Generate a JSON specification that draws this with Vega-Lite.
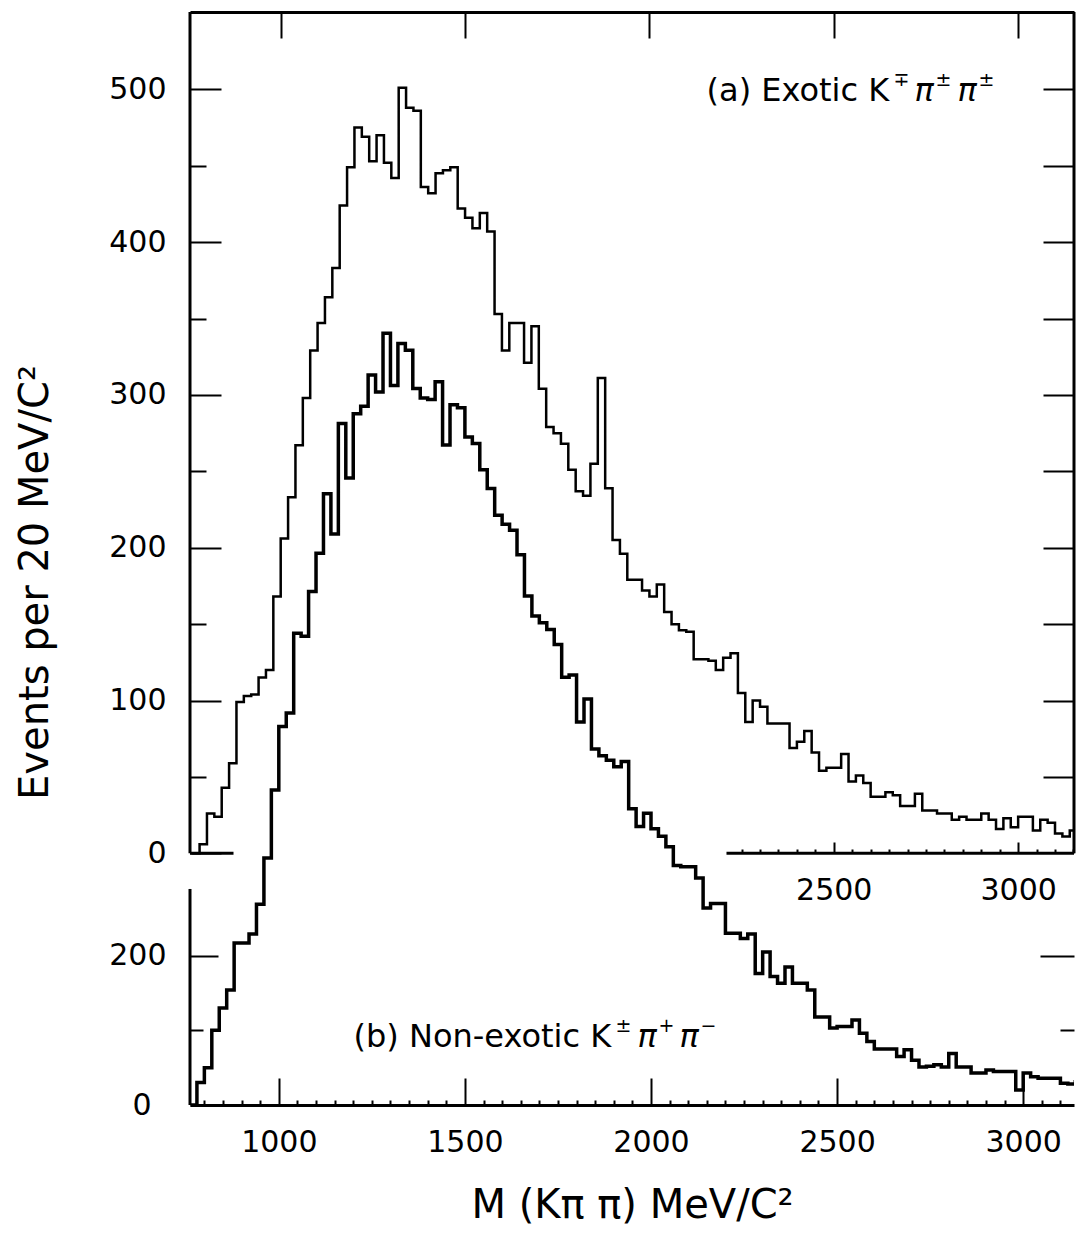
{
  "$schema": "https://vega.github.io/schema/vega-lite/v6.json",
  "width": 884,
  "height": 1093,
  "autosize": {"type": "none"},
  "padding": {"left": 190, "top": 12, "right": 3, "bottom": 143},
  "background": "white",
  "config": {
    "view": {"stroke": null},
    "axis": {"domain": false, "grid": false, "labelFont": "DejaVu Sans", "labelFontSize": 30, "labelColor": "black", "tickColor": "black", "tickWidth": 2, "titleFont": "DejaVu Sans", "titleFontWeight": "normal", "titleColor": "black", "labelFlush": false, "labelOverlap": false, "domainColor": "black", "domainWidth": 3},
    "text": {"font": "DejaVu Sans", "color": "black"}
  },
  "data": {"values": [
    {"m": 760, "a": 0, "b": 0}, {"m": 780, "a": 6, "b": 30}, {"m": 800, "a": 26, "b": 50}, {"m": 820, "a": 24, "b": 100},
    {"m": 840, "a": 43, "b": 130}, {"m": 860, "a": 59, "b": 154}, {"m": 880, "a": 99, "b": 217}, {"m": 900, "a": 103, "b": 217},
    {"m": 920, "a": 104, "b": 229}, {"m": 940, "a": 115, "b": 269}, {"m": 960, "a": 120, "b": 331}, {"m": 980, "a": 168, "b": 422},
    {"m": 1000, "a": 206, "b": 507}, {"m": 1020, "a": 233, "b": 525}, {"m": 1040, "a": 267, "b": 632}, {"m": 1060, "a": 298, "b": 628},
    {"m": 1080, "a": 329, "b": 688}, {"m": 1100, "a": 347, "b": 739}, {"m": 1120, "a": 364, "b": 819}, {"m": 1140, "a": 383, "b": 765},
    {"m": 1160, "a": 424, "b": 913}, {"m": 1180, "a": 449, "b": 840}, {"m": 1200, "a": 475, "b": 926}, {"m": 1220, "a": 469, "b": 936},
    {"m": 1240, "a": 453, "b": 978}, {"m": 1260, "a": 470, "b": 955}, {"m": 1280, "a": 452, "b": 1034}, {"m": 1300, "a": 442, "b": 964},
    {"m": 1320, "a": 501, "b": 1020}, {"m": 1340, "a": 488, "b": 1011}, {"m": 1360, "a": 486, "b": 960}, {"m": 1380, "a": 436, "b": 947},
    {"m": 1400, "a": 432, "b": 945}, {"m": 1420, "a": 445, "b": 969}, {"m": 1440, "a": 447, "b": 884}, {"m": 1460, "a": 449, "b": 938},
    {"m": 1480, "a": 422, "b": 934}, {"m": 1500, "a": 416, "b": 895}, {"m": 1520, "a": 409, "b": 886}, {"m": 1540, "a": 419, "b": 851},
    {"m": 1560, "a": 407, "b": 826}, {"m": 1580, "a": 353, "b": 790}, {"m": 1600, "a": 329, "b": 778}, {"m": 1620, "a": 347, "b": 770},
    {"m": 1640, "a": 347, "b": 737}, {"m": 1660, "a": 321, "b": 682}, {"m": 1680, "a": 345, "b": 655}, {"m": 1700, "a": 304, "b": 646},
    {"m": 1720, "a": 279, "b": 637}, {"m": 1740, "a": 275, "b": 617}, {"m": 1760, "a": 268, "b": 573}, {"m": 1780, "a": 251, "b": 576},
    {"m": 1800, "a": 237, "b": 513}, {"m": 1820, "a": 234, "b": 544}, {"m": 1840, "a": 255, "b": 477}, {"m": 1860, "a": 311, "b": 468},
    {"m": 1880, "a": 239, "b": 462}, {"m": 1900, "a": 205, "b": 453}, {"m": 1920, "a": 196, "b": 460}, {"m": 1940, "a": 179, "b": 397},
    {"m": 1960, "a": 179, "b": 373}, {"m": 1980, "a": 172, "b": 391}, {"m": 2000, "a": 168, "b": 370}, {"m": 2020, "a": 176, "b": 360},
    {"m": 2040, "a": 158, "b": 346}, {"m": 2060, "a": 150, "b": 321}, {"m": 2080, "a": 146, "b": 319}, {"m": 2100, "a": 145, "b": 319},
    {"m": 2120, "a": 127, "b": 304}, {"m": 2140, "a": 127, "b": 264}, {"m": 2160, "a": 126, "b": 270}, {"m": 2180, "a": 120, "b": 270},
    {"m": 2200, "a": 128, "b": 230}, {"m": 2220, "a": 131, "b": 230}, {"m": 2240, "a": 105, "b": 223}, {"m": 2260, "a": 86, "b": 229},
    {"m": 2280, "a": 100, "b": 176}, {"m": 2300, "a": 96, "b": 205}, {"m": 2320, "a": 85, "b": 172}, {"m": 2340, "a": 85, "b": 163},
    {"m": 2360, "a": 85, "b": 185}, {"m": 2380, "a": 69, "b": 163}, {"m": 2400, "a": 73, "b": 163}, {"m": 2420, "a": 80, "b": 154},
    {"m": 2440, "a": 66, "b": 118}, {"m": 2460, "a": 54, "b": 118}, {"m": 2480, "a": 56, "b": 103}, {"m": 2500, "a": 56, "b": 105},
    {"m": 2520, "a": 65, "b": 105}, {"m": 2540, "a": 47, "b": 114}, {"m": 2560, "a": 51, "b": 96}, {"m": 2580, "a": 46, "b": 85},
    {"m": 2600, "a": 37, "b": 75}, {"m": 2620, "a": 37, "b": 75}, {"m": 2640, "a": 40, "b": 75}, {"m": 2660, "a": 38, "b": 65},
    {"m": 2680, "a": 31, "b": 74}, {"m": 2700, "a": 31, "b": 60}, {"m": 2720, "a": 39, "b": 51}, {"m": 2740, "a": 28, "b": 52},
    {"m": 2760, "a": 28, "b": 54}, {"m": 2780, "a": 26, "b": 51}, {"m": 2800, "a": 26, "b": 69}, {"m": 2820, "a": 22, "b": 51},
    {"m": 2840, "a": 24, "b": 51}, {"m": 2860, "a": 22, "b": 43}, {"m": 2880, "a": 22, "b": 43}, {"m": 2900, "a": 26, "b": 47},
    {"m": 2920, "a": 22, "b": 45}, {"m": 2940, "a": 16, "b": 45}, {"m": 2960, "a": 23, "b": 45}, {"m": 2980, "a": 17, "b": 20},
    {"m": 3000, "a": 24, "b": 43}, {"m": 3020, "a": 24, "b": 38}, {"m": 3040, "a": 15, "b": 36}, {"m": 3060, "a": 22, "b": 36},
    {"m": 3080, "a": 20, "b": 36}, {"m": 3100, "a": 13, "b": 29}, {"m": 3120, "a": 11, "b": 28}, {"m": 3140, "a": 15, "b": 31},
    {"m": 3160, "a": 15, "b": 31}
  ]},
  "resolve": {"scale": {"x": "independent", "y": "independent"}, "axis": {"x": "independent", "y": "independent"}},
  "layer": [
    {
      "layer": [
        {
          "mark": {"type": "line", "interpolate": "step-after", "color": "black", "strokeWidth": 2.5, "clip": true},
          "encoding": {
            "x": {"field": "m", "type": "quantitative", "scale": {"domain": [754, 3151.5], "nice": false, "zero": false},
                  "axis": {"orient": "top", "domain": true, "values": [1000, 1500, 2000, 2500, 3000], "tickSize": -26, "labels": false, "title": null}},
            "y": {"field": "a", "type": "quantitative", "scale": {"domain": [-164.7, 550.6], "nice": false, "zero": false},
                  "axis": {"orient": "left", "values": [0, 50, 100, 150, 200, 250, 300, 350, 400, 450, 500], "labelOverlap": false,
                           "tickSize": {"condition": {"test": "datum.value % 100 === 0", "value": -31}, "value": -16},
                           "labelExpr": "datum.value % 100 === 0 ? datum.label : ''", "labelPadding": 55,
                           "title": "Events per 20 MeV/C²", "titleFontSize": 40, "titleX": -155, "titleY": 570, "titleAngle": 270, "titleBaseline": "middle", "titleAlign": "center"}}
          }
        },
        {"data": {"values": [{}]}, "mark": {"type": "rule", "color": "black", "strokeWidth": 3},
         "encoding": {"x": {"datum": 754, "type": "quantitative"}, "y": {"datum": 0, "type": "quantitative"}, "y2": {"datum": 550.6}}},
        {"data": {"values": [{}]}, "mark": {"type": "rule", "color": "black", "strokeWidth": 3},
         "encoding": {"x": {"datum": 3151.5, "type": "quantitative"}, "y": {"datum": 0, "type": "quantitative"}, "y2": {"datum": 550.6}}},
        {"data": {"values": [{}]}, "mark": {"type": "rule", "color": "black", "strokeWidth": 3},
         "encoding": {"x": {"datum": 2209, "type": "quantitative"}, "x2": {"datum": 3151.5}, "y": {"datum": 0, "type": "quantitative"}}},
        {"data": {"values": [{}]}, "mark": {"type": "rule", "color": "black", "strokeWidth": 3},
         "encoding": {"x": {"datum": 754, "type": "quantitative"}, "x2": {"datum": 872}, "y": {"datum": 0, "type": "quantitative"}}},
        {"data": {"values": [{}]}, "mark": {"type": "text", "align": "left", "baseline": "middle", "fontSize": 32, "text": "(a) Exotic K"},
         "encoding": {"x": {"datum": 2155, "type": "quantitative"}, "y": {"datum": 499, "type": "quantitative"}}},
        {"data": {"values": [{}]}, "mark": {"type": "text", "align": "left", "baseline": "middle", "fontSize": 19, "text": "∓", "dx": 187, "dy": -11},
         "encoding": {"x": {"datum": 2155, "type": "quantitative"}, "y": {"datum": 499, "type": "quantitative"}}},
        {"data": {"values": [{}]}, "mark": {"type": "text", "align": "left", "baseline": "middle", "fontSize": 32, "fontStyle": "italic", "text": "π", "dx": 208},
         "encoding": {"x": {"datum": 2155, "type": "quantitative"}, "y": {"datum": 499, "type": "quantitative"}}},
        {"data": {"values": [{}]}, "mark": {"type": "text", "align": "left", "baseline": "middle", "fontSize": 19, "text": "±", "dx": 229, "dy": -11},
         "encoding": {"x": {"datum": 2155, "type": "quantitative"}, "y": {"datum": 499, "type": "quantitative"}}},
        {"data": {"values": [{}]}, "mark": {"type": "text", "align": "left", "baseline": "middle", "fontSize": 32, "fontStyle": "italic", "text": "π", "dx": 251},
         "encoding": {"x": {"datum": 2155, "type": "quantitative"}, "y": {"datum": 499, "type": "quantitative"}}},
        {"data": {"values": [{}]}, "mark": {"type": "text", "align": "left", "baseline": "middle", "fontSize": 19, "text": "±", "dx": 272, "dy": -11},
         "encoding": {"x": {"datum": 2155, "type": "quantitative"}, "y": {"datum": 499, "type": "quantitative"}}}
      ]
    },
    {
      "mark": {"type": "line", "interpolate": "step-after", "opacity": 0},
      "encoding": {
        "x": {"field": "m", "type": "quantitative", "scale": {"domain": [754, 3151.5], "nice": false, "zero": false},
              "axis": {"orient": "bottom", "offset": -252, "format": "d", "labelOverlap": false,
                       "values": [2250, 2300, 2350, 2400, 2450, 2500, 2550, 2600, 2650, 2700, 2750, 2800, 2850, 2900, 2950, 3000, 3050, 3100, 3150],
                       "tickSize": {"condition": {"test": "datum.value % 500 === 0", "value": -11}, "value": -4},
                       "labelExpr": "datum.value % 500 === 0 ? datum.label : ''", "labelPadding": 33, "title": null}},
        "y": {"field": "a", "type": "quantitative", "scale": {"domain": [-164.7, 550.6], "nice": false, "zero": false},
              "axis": {"orient": "right", "values": [50, 100, 150, 200, 250, 300, 350, 400, 450, 500], "tickSize": -31, "labels": false, "title": null}}
      }
    },
    {
      "layer": [
        {
          "mark": {"type": "line", "interpolate": "step-after", "color": "black", "strokeWidth": 3.5, "clip": true},
          "encoding": {
            "x": {"field": "m", "type": "quantitative", "scale": {"domain": [761.4, 3136.5], "nice": false, "zero": false},
                  "axis": {"orient": "bottom", "domain": true, "format": "d", "labelOverlap": false,
                           "values": [1000, 1500, 2000, 2500, 3000],
                           "tickSize": -27, "labelPadding": 49,
                           "title": "M (Kπ π) MeV/C²", "titleFontSize": 40, "titleY": 100, "titleBaseline": "middle"}},
            "y": {"field": "b", "type": "quantitative", "scale": {"domain": [0, 1464.2], "nice": false, "zero": false},
                  "axis": {"orient": "left", "values": [0, 100, 200], "labelOverlap": false,
                           "tickSize": {"condition": {"test": "datum.value === 200", "value": -28}, "value": -13},
                           "labelExpr": "datum.value === 100 ? '' : datum.label", "labelPadding": 52, "title": null}}
          }
        },
        {"data": {"values": [{}]}, "mark": {"type": "rule", "color": "black", "strokeWidth": 3},
         "encoding": {"x": {"datum": 761.4, "type": "quantitative"}, "y": {"datum": 0, "type": "quantitative"}, "y2": {"datum": 289.4}}},
        {"data": {"values": [{}]}, "mark": {"type": "text", "align": "left", "baseline": "middle", "fontSize": 32, "text": "(b) Non-exotic K"},
         "encoding": {"x": {"datum": 1200.7, "type": "quantitative"}, "y": {"datum": 91.5, "type": "quantitative"}}},
        {"data": {"values": [{}]}, "mark": {"type": "text", "align": "left", "baseline": "middle", "fontSize": 19, "text": "±", "dx": 262, "dy": -11},
         "encoding": {"x": {"datum": 1200.7, "type": "quantitative"}, "y": {"datum": 91.5, "type": "quantitative"}}},
        {"data": {"values": [{}]}, "mark": {"type": "text", "align": "left", "baseline": "middle", "fontSize": 32, "fontStyle": "italic", "text": "π", "dx": 284},
         "encoding": {"x": {"datum": 1200.7, "type": "quantitative"}, "y": {"datum": 91.5, "type": "quantitative"}}},
        {"data": {"values": [{}]}, "mark": {"type": "text", "align": "left", "baseline": "middle", "fontSize": 19, "text": "+", "dx": 305, "dy": -11},
         "encoding": {"x": {"datum": 1200.7, "type": "quantitative"}, "y": {"datum": 91.5, "type": "quantitative"}}},
        {"data": {"values": [{}]}, "mark": {"type": "text", "align": "left", "baseline": "middle", "fontSize": 32, "fontStyle": "italic", "text": "π", "dx": 326},
         "encoding": {"x": {"datum": 1200.7, "type": "quantitative"}, "y": {"datum": 91.5, "type": "quantitative"}}},
        {"data": {"values": [{}]}, "mark": {"type": "text", "align": "left", "baseline": "middle", "fontSize": 19, "text": "−", "dx": 347, "dy": -11},
         "encoding": {"x": {"datum": 1200.7, "type": "quantitative"}, "y": {"datum": 91.5, "type": "quantitative"}}}
      ]
    },
    {
      "mark": {"type": "line", "interpolate": "step-after", "opacity": 0},
      "encoding": {
        "x": {"field": "m", "type": "quantitative", "scale": {"domain": [761.4, 3136.5], "nice": false, "zero": false},
              "axis": {"orient": "bottom", "labels": false, "title": null, "tickSize": -5,
                       "values": [800, 850, 900, 950, 1050, 1100, 1150, 1200, 1250, 1300, 1350, 1400, 1450, 1550, 1600, 1650, 1700, 1750, 1800, 1850, 1900, 1950, 2050, 2100, 2150, 2200, 2250, 2300, 2350, 2400, 2450, 2550, 2600, 2650, 2700, 2750, 2800, 2850, 2900, 2950, 3050, 3100]}},
        "y": {"field": "b", "type": "quantitative", "scale": {"domain": [0, 1464.2], "nice": false, "zero": false},
              "axis": {"orient": "right", "values": [100, 200],
                       "tickSize": {"condition": {"test": "datum.value === 200", "value": -34}, "value": -14},
                       "labels": false, "title": null}}
      }
    }
  ]
}
